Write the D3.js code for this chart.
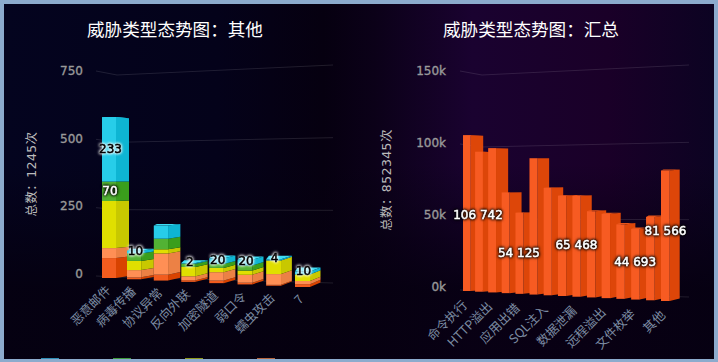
<!DOCTYPE html>
<html>
<head>
<meta charset="utf-8">
<script src="https://cdn.jsdelivr.net/npm/d3@7"></script>
<style>
  html, body { margin: 0; padding: 0; background: #8cabcd; }
  svg { display: block; }
  .title { font: 17.6px "Noto Sans CJK SC"; fill: #fff; text-anchor: middle; }
  .ytitle { font: 12.5px "DejaVu Sans", "Noto Sans CJK SC"; fill: #bbb; text-anchor: middle; letter-spacing: .4px; }
  .tick text { font: 12px "DejaVu Sans"; fill: #999; stroke: #999; stroke-width: .35px; }
  .cat { font: 12.5px "Noto Sans CJK SC"; fill: #7c8ca3; text-anchor: end; }
  .val { font: 12px "DejaVu Sans"; stroke-width: .5px; text-anchor: middle; }
</style>
</head>
<body>
<svg id="chart" width="718" height="362"></svg>
<script>
(function(){

// The data - left chart
var otherCats = ["恶意邮件","病毒传播","协议异常","反向外联","加密隧道","弱口令","蠕虫攻击","7"];
var redVals    = [72, 7, 21, 6, 9, 6, 3, 10];
var orangeVals = [36, 26, 76, 14, 30, 28, 38, 11];
var yellowVals = [170, 33, 15, 33, 15, 15, 48, 23];
var greenVals  = [70, 27, 38, 12, 14, 18, 0, 0];
var cyanVals   = [233, 10, 47, 2, 20, 20, 4, 10];
var otherTicks = [0, 250, 500, 750];

// The data - right chart
var totalVals = [106742, 95200, 97500, 67600, 54125, 90300, 70700, 65600, 65468, 55600, 54000, 47400, 44693, 52400, 81566];
var totalCats = ["命令执行","HTTP溢出","应用出错","SQL注入","数据泄漏","远程溢出","文件枚举","其他"];
var totalTicks = [0, 50000, 100000, 150000];
var totalLabelled = [0, 4, 8, 12, 14];

var svg = d3.select("#chart");
var defs = svg.append("defs");

// Background
var bg = defs.append("linearGradient").attr("id", "bg");
[[0,"#04041f"],[.3,"#04021a"],[.45,"#060010"],[.52,"#0b0118"],[.66,"#1a0230"],[.85,"#1a0028"],[1,"#0c0322"]].forEach(function(s){
  bg.append("stop").attr("offset", s[0]).attr("stop-color", s[1]);
});
var shade = defs.append("linearGradient").attr("id", "shade").attr("x2", 0).attr("y2", 1);
shade.append("stop").attr("offset", .45).attr("stop-color", "#05000f").attr("stop-opacity", 0);
shade.append("stop").attr("offset", .8).attr("stop-color", "#05000f").attr("stop-opacity", .85);

svg.append("rect").attr("x", 4).attr("y", 4).attr("width", 710).attr("height", 355).attr("fill", "url(#bg)");
svg.append("rect").attr("x", 4).attr("y", 4).attr("width", 710).attr("height", 355).attr("fill", "url(#shade)");

function poly(g, pts, fill) {
  g.append("polygon").attr("points", pts.map(function(p){ return p.join(","); }).join(" ")).attr("fill", fill);
}

function grid(g, ticks, yF, yC, yR, xs) {
  g.selectAll(".gl").data(ticks).enter().append("polyline")
    .attr("class", "gl")
    .attr("fill", "none")
    .attr("stroke", "rgba(255,255,255,.11)")
    .attr("points", function(v){ return [[xs[0], yF(v)], [xs[1], yC(v)], [xs[2], yR(v)]].join(" "); });
}

function yAxis(g, ticks, scale, fmt, x) {
  var a = g.append("g").attr("transform", "translate(" + x + ",0)")
    .call(d3.axisLeft(scale).tickValues(ticks).tickFormat(fmt).tickSize(0).tickPadding(0));
  a.select(".domain").remove();
}

function label(g, x, y, txt, dark) {
  g.append("text").attr("class", "val")
    .attr("x", x).attr("y", y).attr("dy", ".36em")
    .attr("fill", dark ? "#000" : "#fff")
    .attr("stroke", dark ? "#000" : "#fff")
    .style("filter", dark ? "drop-shadow(0 0 1.5px #fff) drop-shadow(0 0 1px #fff)" : "drop-shadow(0 0 1.5px #000) drop-shadow(0 0 1px #000)")
    .text(txt);
}

// ---------- Left chart : stacked
var left = svg.append("g");
var otherSeries = [
  {vals: redVals,    front: "#f25c1e", side: "#d84300"},
  {vals: orangeVals, front: "#ff8f55", side: "#ec8145"},
  {vals: yellowVals, front: "#e0df00", side: "#c8c800"},
  {vals: greenVals,  front: "#52b234", side: "#3a9e1c"},
  {vals: cyanVals,   front: "#27cde9", side: "#0eb5d3"}
];

left.append("text").attr("class", "title").attr("x", 175).attr("y", 36).text("威胁类型态势图\uFF1A其他");
left.append("text").attr("class", "ytitle").attr("transform", "translate(36,174) rotate(-90)").text("总数\uFF1A1245次");

var lF = d3.scaleLinear().domain([0, 750]).range([276, 71]),
    lC = d3.scaleLinear().domain([0, 750]).range([277, 75]),
    lR = d3.scaleLinear().domain([0, 750]).range([283, 65]),
    lTick = d3.scaleLinear().domain([0, 750]).range([273.7, 70.5]);
grid(left, otherTicks, lF, lC, lR, [96, 117, 333]);
yAxis(left, otherTicks, lTick, function(d){ return d; }, 83);

var lX = d3.scalePow().exponent(1.05).domain([0, 7]).range([102, 295]),
    lW = d3.scaleLinear().domain([0, 7]).range([14, 15]),
    lD = d3.scaleLinear().domain([0, 7]).range([13, 10.5]),
    lBase = d3.scaleLinear().domain([0, 7]).range([278, 287]),
    lK = d3.scaleLinear().domain([0, 7]).range([.277, .285]),
    lRise = d3.scaleLinear().domain([0, 7]).range([2, 4.5]);

var lPos = [];
otherCats.forEach(function(c, i){
  var x0 = lX(i), w = lW(i), d = lD(i), k = lK(i), base = lBase(i), r = lRise(i);
  var y = d3.scaleLinear().domain([0, 1000]).range([base, base - 1000 * k]);
  var back = function(v){ return y(v) - r + .02 * (base - y(v)); };
  var total = d3.sum(otherSeries, function(s){ return s.vals[i]; });
  var g = left.append("g");
  poly(g, [[x0, y(total)], [x0 + w, y(total)], [x0 + w + d, back(total)], [x0 + d * .25, back(total)]], "#3ddcf4");
  var sum = 0;
  lPos[i] = [];
  otherSeries.forEach(function(s, j){
    var a = sum, b = sum + s.vals[i];
    sum = b;
    lPos[i][j] = (y(a) + y(b)) / 2 - r / 2;
    if (!s.vals[i]) return;
    poly(g, [[x0 + w, y(a)], [x0 + w + d, back(a)], [x0 + w + d, back(b)], [x0 + w, y(b)]], s.side);
    g.append("rect").attr("x", x0).attr("y", y(b)).attr("width", w).attr("height", y(a) - y(b)).attr("fill", s.front);
  });
  left.append("text").attr("class", "cat")
    .attr("transform", "translate(" + (x0 + 9.5) + "," + (base + 13) + ") rotate(-45)")
    .text(c);
});

// top labels, and the one label of the green series that fits
cyanVals.forEach(function(v, i){
  if (i !== 2) label(left, lX(i) + 8.5, lPos[i][4], v, true);
});
label(left, lX(0) + 8, lPos[0][3], greenVals[0], false);

// ---------- Right chart
var right = svg.append("g");
right.append("text").attr("class", "title").attr("x", 531).attr("y", 36).text("威胁类型态势图\uFF1A汇总");
right.append("text").attr("class", "ytitle").attr("transform", "translate(391,180) rotate(-90)").text("总数\uFF1A852345次");

var rF = d3.scaleLinear().domain([0, 150000]).range([290, 71]),
    rC = d3.scaleLinear().domain([0, 150000]).range([291, 75]),
    rR = d3.scaleLinear().domain([0, 150000]).range([297, 65]),
    rTick = d3.scaleLinear().domain([0, 150000]).range([287, 70.5]);
grid(right, totalTicks, rF, rC, rR, [460, 482, 689]);
yAxis(right, totalTicks, rTick, function(d){ return (d / 1000) + "k"; }, 446);

var rX = d3.scalePow().exponent(1.06).domain([0, 14]).range([463, 661]),
    rW = d3.scaleLinear().domain([0, 14]).range([7.7, 8.7]),
    rD = d3.scaleLinear().domain([0, 14]).range([12.5, 10]),
    rBase = d3.scaleLinear().domain([0, 14]).range([291, 301]),
    rK = d3.scaleLinear().domain([0, 14]).range([.00146, .0016]),
    rRise = d3.scaleLinear().domain([0, 14]).range([1, 2.5]);

var rY = function(i){ return d3.scaleLinear().domain([0, 200000]).range([rBase(i), rBase(i) - 200000 * rK(i)]); };

totalVals.forEach(function(v, i){
  var x0 = rX(i), w = rW(i), d = rD(i), y = rY(i), r = rRise(i);
  var yb = function(u){ return y(u) - r + .011 * (rBase(i) - y(u)); };
  poly(right, [[x0, y(v)], [x0 + w, y(v)], [x0 + w + d, yb(v)], [x0 + d * .25, yb(v)]], "#e8541a");
  poly(right, [[x0 + w, y(0)], [x0 + w + d, yb(0)], [x0 + w + d, yb(v)], [x0 + w, y(v)]], "#dd4609");
  right.append("rect").attr("x", x0).attr("y", y(v)).attr("width", w).attr("height", y(0) - y(v)).attr("fill", "#f75b22");
});

totalCats.forEach(function(c, j){
  var i = j * 2;
  right.append("text").attr("class", "cat")
    .attr("transform", "translate(" + (rX(i) + 5) + "," + (rBase(i) + 15) + ") rotate(-45)")
    .text(c);
});

// label nudges, the chart moved them to keep them inside
var nudge = {0: [15, 2], 4: [3.5, -1], 8: [4, -1.5], 12: [4, -2.5], 14: [4.5, -5]};
var spaced = function(v){ return d3.format(",")(v).replace(",", " "); };
totalLabelled.forEach(function(i){
  var y = rY(i), v = totalVals[i];
  label(right, rX(i) + nudge[i][0], (y(0) + y(v)) / 2 + nudge[i][1], spaced(v), false);
});

// Legend swatches, only their top edge is still inside the frame
var swatch = d3.scalePoint().domain(d3.range(4)).range([41, 257]);
["#2f8fb8", "#3f9a3c", "#8f9a1c", "#b8673f"].forEach(function(c, i){
  svg.append("rect").attr("x", swatch(i)).attr("y", 358).attr("width", 18).attr("height", 1).attr("fill", c);
});

})();
</script>
</body>
</html>
